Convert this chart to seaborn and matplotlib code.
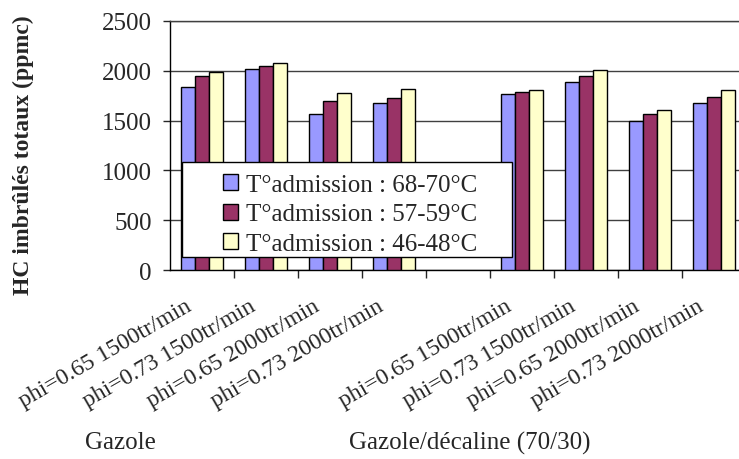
import pandas as pd
import seaborn as sns
import matplotlib.pyplot as plt
from matplotlib.patches import Rectangle
from matplotlib.transforms import ScaledTranslation

# data
conditions = ['phi=0.65 1500tr/min', 'phi=0.73 1500tr/min',
              'phi=0.65 2000tr/min', 'phi=0.73 2000tr/min']
fuels = ['Gazole', 'Gazole/décaline (70/30)']
temps = ['T°admission : 68-70°C', 'T°admission : 57-59°C', 'T°admission : 46-48°C']

gazole_68 = [1840, 2020, 1570, 1680]
gazole_57 = [1950, 2050, 1700, 1730]
gazole_46 = [1990, 2080, 1780, 1820]
decaline_68 = [1770, 1890, 1500, 1680]
decaline_57 = [1790, 1950, 1570, 1740]
decaline_46 = [1810, 2010, 1610, 1810]

colors = ['#9999FF', '#993366', '#FFFFCC']

rows = []
for fuel, series in zip(fuels, [[gazole_68, gazole_57, gazole_46],
                               [decaline_68, decaline_57, decaline_46]]):
    for temp, vals in zip(temps, series):
        for cond, v in zip(conditions, vals):
            rows.append({'cat': f'{fuel}|{cond}', 'temp': temp, 'hc': v})
df = pd.DataFrame(rows)

# empty slot between the two fuels
order = [f'{fuels[0]}|{c}' for c in conditions] + ['gap'] + \
        [f'{fuels[1]}|{c}' for c in conditions]
tick_labels = conditions + [''] + conditions

sns.set_style('ticks')
plt.rcParams['font.family'] = ['Liberation Serif', 'DejaVu Serif']

W, H = 739, 460
fig = plt.figure(figsize=(W / 100, H / 100), dpi=100)
# axes box in pixels: left 170, right 746 (cropped), top 22, bottom 271
ax = fig.add_axes([170 / W, 1 - 271 / H, 576 / W, 249 / H])

sns.barplot(df, x='cat', y='hc', hue='temp', order=order, hue_order=temps,
            palette=colors, width=0.66, gap=0, edgecolor='black',
            linewidth=1, errorbar=None, saturation=1, ax=ax, zorder=3)

ax.set_ylim(0, 2500)
ax.set_xlim(-0.5, 8.5)
ax.set_yticks([0, 500, 1000, 1500, 2000, 2500])
ax.yaxis.grid(True, color='#404040', lw=1)
ax.set_axisbelow(True)
ax.set_xlabel('')
ax.set_ylabel('')

for s in ['left', 'bottom']:
    ax.spines[s].set_color('black')
    ax.spines[s].set_linewidth(1)
ax.spines['top'].set_color('#404040')
ax.spines['top'].set_linewidth(1)
ax.spines['right'].set_visible(False)

ax.tick_params(axis='y', labelsize=18, length=5, width=1, pad=8, direction='out')
ax.set_xticks(range(len(order)))
ax.set_xticklabels(tick_labels, rotation=30, ha='right', va='center',
                   rotation_mode='anchor', fontsize=17)
ax.tick_params(axis='x', which='major', length=0, pad=25)
shift = ScaledTranslation(-0.125, 0, fig.dpi_scale_trans)
for lab in ax.get_xticklabels():
    lab.set_transform(lab.get_transform() + shift)
ax.set_xticks([i - 0.5 for i in range(1, len(order) + 1)], minor=True)
ax.tick_params(axis='x', which='minor', length=5.5, width=1, direction='out')

# legend with Excel-like centred box
ax.add_patch(Rectangle((12 / 576, 13 / 249), 330 / 576, 95 / 249,
                       transform=ax.transAxes, facecolor='white',
                       edgecolor='black', lw=1, zorder=4, clip_on=False))
handles, labels = ax.get_legend_handles_labels()
ax.legend(handles, labels, loc='upper left',
          bbox_to_anchor=(53 / 576, (271 - 175) / 249), frameon=False,
          fontsize=18, handlelength=0.6, handleheight=0.6,
          handletextpad=0.3, labelspacing=0.3, borderpad=0,
          borderaxespad=0).set_zorder(5)

fig.text(23 / W, 1 - 155 / H, 'HC imbrûlés totaux (ppmc)', rotation=90,
         ha='center', va='center', fontsize=17, fontweight='bold')
fig.text(120 / W, 1 - 443 / H, fuels[0], ha='center', va='center', fontsize=18)
fig.text(470 / W, 1 - 443 / H, fuels[1], ha='center', va='center', fontsize=18)

fig.savefig('out.png', dpi=100)
